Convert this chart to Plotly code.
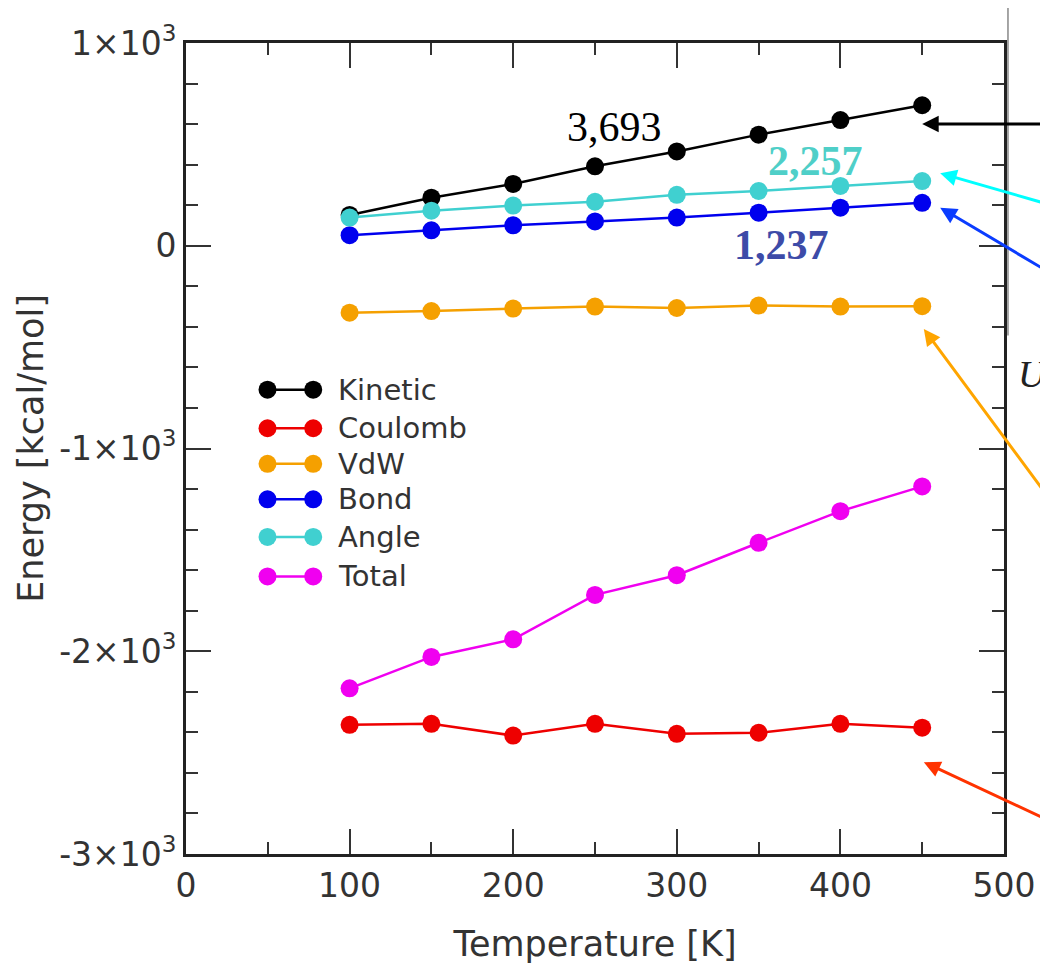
import plotly.graph_objects as go

temperature = [100, 150, 200, 250, 300, 350, 400, 450]
kinetic = [152, 237, 305, 392, 465, 548, 620, 693]
coulomb = [-2363, -2358, -2416, -2358, -2407, -2402, -2358, -2377]
vdw = [-330, -322, -310, -300, -307, -295, -300, -298]
bond = [52, 76, 101, 120, 139, 163, 188, 212]
angle = [139, 173, 198, 217, 251, 270, 295, 319]
total = [-2183, -2028, -1941, -1722, -1625, -1465, -1309, -1187]

series_names = ["Kinetic", "Coulomb", "VdW", "Bond", "Angle", "Total"]
series_values = [kinetic, coulomb, vdw, bond, angle, total]
series_colors = ["#000000", "#EE0000", "#F5A000", "#0000EE", "#40D0D0", "#F000F0"]

y_tick_vals = [-3000, -2000, -1000, 0, 1000]
y_tick_text = ["-3×10<sup>3</sup>", "-2×10<sup>3</sup>", "-1×10<sup>3</sup>", "0", "1×10<sup>3</sup>"]
x_tick_vals = [0, 100, 200, 300, 400, 500]

labels = [
    dict(text="3,693", x=262, y=585, color="#000000", bold=False),
    dict(text="2,257", x=385, y=420, color="#4FCFC8", bold=True),
    dict(text="1,237", x=364, y=6, color="#3D4BA8", bold=True),
]
# arrows: head in data coords, tail offset in pixels
arrows = [
    dict(x=450, y=601, ax=130, ay=0, color="#000000"),
    dict(x=461, y=358, ax=110, ay=31, color="#00FFFF"),
    dict(x=461, y=188, ax=110, ay=64, color="#0A3CFF"),
    dict(x=451, y=-410, ax=125, ay=168, color="#FFA500"),
    dict(x=451, y=-2547, ax=125, ay=58, color="#FF3300"),
]

W, H = 1040, 961
ML, MT, PW, PH = 178, 29, 823, 821


def px(wx):
    # window pixel x -> paper fraction (page has an 8px body margin)
    return (wx - 8 - ML) / PW


def py(wy):
    return (MT + PH - (wy - 8)) / PH


legend_rows = [388, 427, 463, 499, 537, 577]
legend_x_left, legend_x_right, legend_text_x = 268, 314, 337

axis_font = dict(family="DejaVu Sans", size=33, color="#333333")
title_font = dict(family="DejaVu Sans", size=35, color="#333333")

fig = go.Figure()
for name, vals, col in zip(series_names, series_values, series_colors):
    fig.add_trace(go.Scatter(
        x=temperature, y=vals, name=name, mode="lines+markers",
        line=dict(color=col, width=2.5),
        marker=dict(color=col, size=18),
        showlegend=False,
    ))

annotations = []
shapes = []
for lab in labels:
    annotations.append(dict(
        x=lab["x"], y=lab["y"], xref="x", yref="y",
        text=("<b>%s</b>" % lab["text"]) if lab["bold"] else lab["text"],
        showarrow=False,
        font=dict(family="Liberation Serif", size=42, color=lab["color"]),
    ))
for ar in arrows:
    annotations.append(dict(
        x=ar["x"], y=ar["y"], xref="x", yref="y", text="",
        showarrow=True, ax=ar["ax"], ay=ar["ay"], axref="pixel", ayref="pixel",
        arrowcolor=ar["color"], arrowwidth=3, arrowhead=2, arrowsize=1.1,
        standoff=0,
    ))
annotations.append(dict(
    x=px(1021), y=py(372), xref="paper", yref="paper", text="<i>U</i>",
    showarrow=False, xanchor="left", yanchor="middle",
    font=dict(family="Liberation Serif", size=38, color="#222222"),
))
# thin border of the neighbouring panel seen at the right edge
shapes.append(dict(
    type="line", xref="paper", yref="paper",
    x0=px(1013), x1=px(1013), y0=py(0), y1=py(333),
    line=dict(color="#888888", width=1.5),
))

# legend drawn as glyphs + texts
for name, col, wy in zip(series_names, series_colors, legend_rows):
    shapes.append(dict(
        type="line", xref="paper", yref="paper",
        x0=px(legend_x_left), x1=px(legend_x_right), y0=py(wy), y1=py(wy),
        line=dict(color=col, width=2.5),
    ))
    for wx in (legend_x_left, legend_x_right):
        shapes.append(dict(
            type="circle", xref="paper", yref="paper",
            xsizemode="pixel", ysizemode="pixel",
            xanchor=px(wx), yanchor=py(wy),
            x0=-9, x1=9, y0=-9, y1=9,
            fillcolor=col, line=dict(width=0),
        ))
    annotations.append(dict(
        x=px(legend_text_x), y=py(wy), xref="paper", yref="paper",
        text=name, showarrow=False, xanchor="left", yanchor="middle",
        font=dict(family="DejaVu Sans", size=29, color="#333333"),
    ))

fig.update_layout(
    width=W, height=H,
    margin=dict(l=ML, r=W - ML - PW, t=MT, b=H - MT - PH),
    paper_bgcolor="white", plot_bgcolor="white",
    showlegend=False,
    annotations=annotations,
    shapes=shapes,
)

fig.update_xaxes(
    range=[0, 500], tickvals=x_tick_vals,
    ticks="inside", ticklen=25, tickwidth=2, tickcolor="#333333",
    minor=dict(dtick=50, ticks="inside", ticklen=12, tickwidth=2, tickcolor="#333333"),
    showline=True, linewidth=3, linecolor="#222222", mirror="ticks",
    showgrid=False, zeroline=False,
    tickfont=axis_font,
    title=dict(text="Temperature [K]", font=title_font, standoff=28),
)
fig.update_yaxes(
    range=[-3000, 1000], tickvals=y_tick_vals, ticktext=y_tick_text,
    ticks="inside", ticklen=25, tickwidth=2, tickcolor="#333333",
    minor=dict(dtick=200, ticks="inside", ticklen=12, tickwidth=2, tickcolor="#333333"),
    showline=True, linewidth=3, linecolor="#222222", mirror="ticks",
    showgrid=False, zeroline=False,
    tickfont=axis_font,
    title=dict(text="Energy [kcal/mol]", font=title_font, standoff=5),
)

fig.write_html("out.html")
